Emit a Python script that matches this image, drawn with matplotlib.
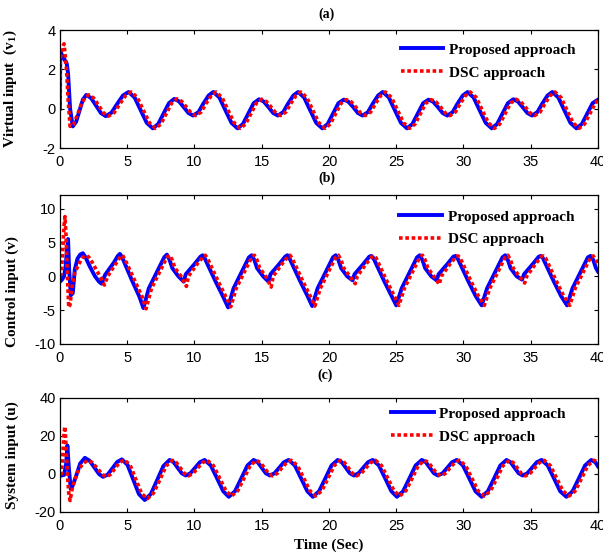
import matplotlib
matplotlib.use('Agg')
import matplotlib.pyplot as plt

plt.rcParams['axes.unicode_minus'] = False
plt.rcParams['mathtext.fontset'] = 'custom'
plt.rcParams['mathtext.rm'] = 'Liberation Serif'
plt.rcParams['mathtext.bf'] = 'Liberation Serif:bold'

SERIF = 'Liberation Serif'
SANS = 'Liberation Sans'

# ---------------- (a) virtual input v1 ----------------
ta_prop = [0, 0.02, 0.25, 0.5, 0.6, 0.75, 0.95, 1.2, 1.45, 1.7, 1.95, 2.31, 2.68, 3.04, 3.4, 3.83, 4.25, 4.68,
           5.1, 5.55, 6.0, 6.45, 6.9, 7.3, 7.7, 8.1, 8.5, 8.85, 9.2, 9.55, 9.9, 10.3, 10.65, 11.05,
           11.4, 11.85, 12.3, 12.75, 13.2, 13.6, 14.0, 14.4, 14.8, 15.15, 15.5, 15.85, 16.2, 16.6, 16.95, 17.35,
           17.7, 18.15, 18.6, 19.05, 19.5, 19.9, 20.3, 20.7, 21.1, 21.45, 21.8, 22.15, 22.5, 22.9, 23.25, 23.65,
           24.0, 24.45, 24.9, 25.35, 25.8, 26.2, 26.6, 27.0, 27.4, 27.75, 28.1, 28.45, 28.8, 29.2, 29.55, 29.95,
           30.3, 30.75, 31.2, 31.65, 32.1, 32.5, 32.9, 33.3, 33.7, 34.05, 34.4, 34.75, 35.1, 35.5, 35.85, 36.25,
           36.6, 37.05, 37.5, 37.95, 38.4, 38.8, 39.2, 39.6, 40.0]
va_prop = [0, 2.9, 2.6, 2.3, 1.8, 0.0, -0.9, -0.66, -0.1, 0.46, 0.7, 0.54, 0.16, -0.22, -0.38, -0.2, 0.24, 0.67,
           0.85, 0.57, -0.08, -0.72, -1.0, -0.78, -0.25, 0.28, 0.5, 0.37, 0.08, -0.22, -0.35, -0.17, 0.25, 0.67,
           0.85, 0.57, -0.08, -0.72, -1.0, -0.78, -0.25, 0.28, 0.48, 0.36, 0.08, -0.22, -0.35, -0.17, 0.25, 0.67,
           0.85, 0.57, -0.08, -0.72, -1.0, -0.78, -0.25, 0.28, 0.46, 0.35, 0.08, -0.22, -0.35, -0.17, 0.25, 0.67,
           0.85, 0.57, -0.08, -0.72, -1.0, -0.78, -0.25, 0.28, 0.46, 0.35, 0.08, -0.22, -0.35, -0.17, 0.25, 0.67,
           0.85, 0.57, -0.08, -0.72, -1.0, -0.78, -0.25, 0.28, 0.48, 0.36, 0.08, -0.22, -0.35, -0.17, 0.25, 0.67,
           0.85, 0.57, -0.08, -0.72, -1.0, -0.78, -0.25, 0.28, 0.46]

ta_dsc = [0, 0.02, 0.15, 0.3, 0.42, 0.5, 0.6, 0.75, 1.0, 1.3, 1.6, 1.9, 2.15, 2.51, 2.88, 3.24, 3.6, 4.03, 4.45, 4.88,
          5.3, 5.75, 6.2, 6.65, 7.1, 7.5, 7.9, 8.3, 8.7, 9.05, 9.4, 9.75, 10.1, 10.5, 10.85, 11.25,
          11.6, 12.05, 12.5, 12.95, 13.4, 13.8, 14.2, 14.6, 15.0, 15.35, 15.7, 16.05, 16.4, 16.8, 17.15, 17.55,
          17.9, 18.35, 18.8, 19.25, 19.7, 20.1, 20.5, 20.9, 21.3, 21.65, 22.0, 22.35, 22.7, 23.1, 23.45, 23.85,
          24.2, 24.65, 25.1, 25.55, 26.0, 26.4, 26.8, 27.2, 27.6, 27.95, 28.3, 28.65, 29.0, 29.4, 29.75, 30.15,
          30.5, 30.95, 31.4, 31.85, 32.3, 32.7, 33.1, 33.5, 33.9, 34.25, 34.6, 34.95, 35.3, 35.7, 36.05, 36.45,
          36.8, 37.25, 37.7, 38.15, 38.6, 39.0, 39.4, 39.8, 40.0]
va_dsc = [0, 2.5, 3.1, 3.3, 2.5, 1.8, 0.5, -0.9, -0.8, -0.3, 0.25, 0.6, 0.7, 0.54, 0.16, -0.22, -0.38, -0.2, 0.24, 0.67,
          0.85, 0.57, -0.08, -0.72, -1.0, -0.78, -0.25, 0.28, 0.5, 0.37, 0.08, -0.22, -0.35, -0.17, 0.25, 0.67,
          0.85, 0.57, -0.08, -0.72, -1.0, -0.78, -0.25, 0.28, 0.48, 0.36, 0.08, -0.22, -0.35, -0.17, 0.25, 0.67,
          0.85, 0.57, -0.08, -0.72, -1.0, -0.78, -0.25, 0.28, 0.46, 0.35, 0.08, -0.22, -0.35, -0.17, 0.25, 0.67,
          0.85, 0.57, -0.08, -0.72, -1.0, -0.78, -0.25, 0.28, 0.46, 0.35, 0.08, -0.22, -0.35, -0.17, 0.25, 0.67,
          0.85, 0.57, -0.08, -0.72, -1.0, -0.78, -0.25, 0.28, 0.48, 0.36, 0.08, -0.22, -0.35, -0.17, 0.25, 0.67,
          0.85, 0.57, -0.08, -0.72, -1.0, -0.78, -0.25, 0.28, 0.42]

# ---------------- (b) control input v ----------------
tb_prop = [0, 0.15, 0.3, 0.42, 0.5, 0.6, 0.68, 0.8, 0.95, 1.1, 1.3, 1.5, 1.7, 1.9, 2.2, 2.6, 2.9, 3.1, 3.35, 3.6, 4.0, 4.3, 4.45, 4.6, 5.35, 5.9,
           6.2, 6.6, 7.25, 7.75, 7.95, 8.15, 8.35, 8.8, 9.2, 9.35, 10.0, 10.45, 10.6, 10.75, 11.55, 12.1,
           12.5, 12.9, 13.55, 14.05, 14.25, 14.45, 14.65, 15.1, 15.5, 15.65, 16.3, 16.75, 16.9, 17.05, 17.85, 18.4,
           18.75, 19.15, 19.8, 20.3, 20.5, 20.7, 20.9, 21.35, 21.75, 21.9, 22.55, 23.0, 23.15, 23.3, 24.1, 24.65,
           25.0, 25.4, 26.05, 26.55, 26.75, 26.95, 27.15, 27.6, 28.0, 28.15, 28.8, 29.25, 29.4, 29.55, 30.35, 30.9,
           31.35, 31.75, 32.4, 32.9, 33.1, 33.3, 33.5, 33.95, 34.35, 34.5, 35.15, 35.6, 35.75, 35.9, 36.7, 37.25,
           37.7, 38.1, 38.75, 39.25, 39.45, 39.65, 39.85, 40.0]
vb_prop = [-0.8, -0.5, 0.0, 1.5, 3.5, 5.5, 1.0, -2.8, -2.5, 1.0, 2.6, 3.2, 3.4, 2.8, 1.5, 0.0, -0.8, -1.1, 0.2, 0.9, 2.0, 3.0, 3.3, 2.9, -0.6, -3.0,
           -4.7, -1.8, 0.8, 2.8, 3.2, 2.4, 1.2, 0.0, -0.8, 0.3, 1.8, 2.9, 3.1, 2.7, -0.7, -2.9,
           -4.6, -1.8, 0.8, 2.8, 3.1, 2.4, 1.2, 0.0, -0.8, 0.3, 1.8, 2.9, 3.1, 2.7, -0.7, -2.9,
           -4.4, -1.8, 0.8, 2.8, 3.1, 2.4, 1.2, 0.0, -0.6, 0.3, 1.8, 2.9, 3.0, 2.7, -0.7, -2.9,
           -4.3, -1.8, 0.8, 2.8, 3.1, 2.4, 1.2, 0.0, -0.6, 0.3, 1.8, 2.9, 3.0, 2.7, -0.7, -2.9,
           -4.3, -1.8, 0.8, 2.8, 3.1, 2.4, 1.2, 0.0, -0.5, 0.3, 1.8, 2.9, 3.0, 2.7, -0.7, -2.9,
           -4.3, -1.8, 0.8, 2.8, 3.0, 2.4, 1.2, 0.7]

tb_dsc = [0, 0.1, 0.2, 0.3, 0.37, 0.45, 0.55, 0.65, 0.75, 0.9, 1.1, 1.4, 1.7, 1.95, 2.15, 2.35, 2.8, 3.1, 3.3, 3.55, 3.8, 4.2, 4.5, 4.65, 4.8, 5.55, 6.1,
          6.4, 6.8, 7.45, 7.95, 8.15, 8.35, 8.55, 9.0, 9.4, 9.55, 10.2, 10.65, 10.8, 10.95, 11.75, 12.3,
          12.7, 13.1, 13.75, 14.25, 14.45, 14.65, 14.85, 15.3, 15.7, 15.85, 16.5, 16.95, 17.1, 17.25, 18.05, 18.6,
          18.95, 19.35, 20.0, 20.5, 20.7, 20.9, 21.1, 21.55, 21.95, 22.1, 22.75, 23.2, 23.35, 23.5, 24.3, 24.85,
          25.2, 25.6, 26.25, 26.75, 26.95, 27.15, 27.35, 27.8, 28.2, 28.35, 29.0, 29.45, 29.6, 29.75, 30.55, 31.1,
          31.55, 31.95, 32.6, 33.1, 33.3, 33.5, 33.7, 34.15, 34.55, 34.7, 35.35, 35.8, 35.95, 36.1, 36.9, 37.45,
          37.9, 38.3, 38.95, 39.45, 39.65, 39.85, 40.0]
vb_dsc = [0, 0.5, 3.5, 7.5, 8.8, 6.0, 0.0, -4.6, -4.2, -1.5, 0.5, 1.8, 2.8, 3.1, 2.8, 2.2, 0.6, -0.5, -1.3, 0.0, 0.8, 2.0, 2.9, 3.1, 2.6, -0.6, -3.0,
          -4.8, -1.8, 0.8, 2.8, 3.1, 2.4, 1.2, 0.0, -1.5, 0.0, 1.8, 2.9, 3.1, 2.7, -0.7, -2.9,
          -4.5, -1.8, 0.8, 2.8, 3.1, 2.4, 1.2, 0.0, -1.6, 0.0, 1.8, 2.9, 3.1, 2.7, -0.7, -2.9,
          -4.4, -1.8, 0.8, 2.8, 3.1, 2.4, 1.2, 0.0, -1.1, 0.0, 1.8, 2.9, 3.0, 2.7, -0.7, -2.9,
          -4.3, -1.8, 0.8, 2.8, 3.1, 2.4, 1.2, 0.0, -1.2, 0.0, 1.8, 2.9, 3.0, 2.7, -0.7, -2.9,
          -4.3, -1.8, 0.8, 2.8, 3.1, 2.4, 1.2, 0.0, -1.0, 0.0, 1.8, 2.9, 3.0, 2.7, -0.7, -2.9,
          -4.3, -1.8, 0.8, 2.8, 3.0, 2.4, 1.6]

# ---------------- (c) system input u ----------------
tc_prop = [0, 0.3, 0.45, 0.55, 0.65, 0.8, 0.95, 1.2, 1.5, 1.85, 2.2, 2.55, 2.9, 3.2, 3.55, 3.9, 4.25, 4.6, 5.02, 5.45, 5.87,
           6.3, 6.76, 7.23, 7.69, 8.15, 8.45, 8.75, 9.05, 9.35, 9.7, 10.05, 10.4, 10.75, 11.21, 11.68, 12.14,
           12.55, 13.01, 13.48, 13.94, 14.4, 14.7, 15.0, 15.3, 15.6, 15.95, 16.3, 16.65, 17.0, 17.46, 17.93, 18.39,
           18.8, 19.26, 19.73, 20.19, 20.65, 20.95, 21.25, 21.55, 21.85, 22.2, 22.55, 22.9, 23.25, 23.71, 24.18, 24.64,
           25.05, 25.51, 25.98, 26.44, 26.9, 27.2, 27.5, 27.8, 28.1, 28.45, 28.8, 29.15, 29.5, 29.96, 30.43, 30.89,
           31.35, 31.81, 32.28, 32.74, 33.2, 33.5, 33.8, 34.1, 34.4, 34.75, 35.1, 35.45, 35.8, 36.26, 36.73, 37.19,
           37.65, 38.11, 38.58, 39.04, 39.5, 39.8, 40.0]
vc_prop = [-1, -0.5, 5, 15, 4, -8, -6, -1, 5.5, 8.5, 7.0, 3.5, 0.0, -1.5, -0.3, 3.0, 6.3, 7.7, 4.8, -3.0, -10.6,
           -13.7, -10.5, -3.1, 4.2, 7.4, 6.2, 3.3, 0.4, -0.8, 0.4, 3.3, 6.2, 7.4, 4.5, -2.3, -9.1,
           -12, -9.1, -2.3, 4.5, 7.4, 6.2, 3.3, 0.4, -0.8, 0.4, 3.3, 6.2, 7.4, 4.5, -2.3, -9.1,
           -12, -9.1, -2.3, 4.5, 7.4, 6.2, 3.3, 0.4, -0.8, 0.4, 3.3, 6.2, 7.4, 4.5, -2.3, -9.1,
           -12, -9.1, -2.3, 4.5, 7.4, 6.2, 3.3, 0.4, -0.8, 0.4, 3.3, 6.2, 7.4, 4.5, -2.3, -9.1,
           -12, -9.1, -2.3, 4.5, 7.4, 6.2, 3.3, 0.4, -0.8, 0.4, 3.3, 6.2, 7.4, 4.5, -2.3, -9.1,
           -12, -9.1, -2.3, 4.5, 7.4, 6.2, 4.0]

tc_dsc = [0, 0.1, 0.2, 0.3, 0.37, 0.45, 0.55, 0.65, 0.75, 0.9, 1.1, 1.4, 1.75, 2.1, 2.4, 2.75, 3.1, 3.4, 3.75, 4.1, 4.45, 4.8, 5.22, 5.65, 6.07,
          6.5, 6.96, 7.43, 7.89, 8.35, 8.65, 8.95, 9.25, 9.55, 9.9, 10.25, 10.6, 10.95, 11.41, 11.88, 12.34,
          12.75, 13.21, 13.68, 14.14, 14.6, 14.9, 15.2, 15.5, 15.8, 16.15, 16.5, 16.85, 17.2, 17.66, 18.13, 18.59,
          19.0, 19.46, 19.93, 20.39, 20.85, 21.15, 21.45, 21.75, 22.05, 22.4, 22.75, 23.1, 23.45, 23.91, 24.38, 24.84,
          25.25, 25.71, 26.18, 26.64, 27.1, 27.4, 27.7, 28.0, 28.3, 28.65, 29.0, 29.35, 29.7, 30.16, 30.63, 31.09,
          31.55, 32.01, 32.48, 32.94, 33.4, 33.7, 34.0, 34.3, 34.6, 34.95, 35.3, 35.65, 36.0, 36.46, 36.93, 37.39,
          37.85, 38.31, 38.78, 39.24, 39.7, 40.0]
vc_dsc = [0, 0, 8, 22, 25, 15, 0, -10, -14, -8, -3, 2.5, 5.8, 7.2, 6.0, 3.2, 0.2, -1.5, -0.3, 3.0, 6.2, 7.4, 4.6, -3.0, -10.3,
          -13.0, -10.0, -3.0, 4.2, 7.2, 6.0, 3.2, 0.3, -1.0, 0.3, 3.2, 6.0, 7.2, 4.4, -2.3, -8.9,
          -11.6, -8.9, -2.3, 4.4, 7.2, 6.0, 3.2, 0.3, -1.0, 0.3, 3.2, 6.0, 7.2, 4.4, -2.3, -8.9,
          -11.6, -8.9, -2.3, 4.4, 7.2, 6.0, 3.2, 0.3, -1.0, 0.3, 3.2, 6.0, 7.2, 4.4, -2.3, -8.9,
          -11.6, -8.9, -2.3, 4.4, 7.2, 6.0, 3.2, 0.3, -1.0, 0.3, 3.2, 6.0, 7.2, 4.4, -2.3, -8.9,
          -11.6, -8.9, -2.3, 4.4, 7.2, 6.0, 3.2, 0.3, -1.0, 0.3, 3.2, 6.0, 7.2, 4.4, -2.3, -8.9,
          -11.6, -8.9, -2.3, 4.4, 7.2, 6.4]

xticks = [0, 5, 10, 15, 20, 25, 30, 35, 40]
yticks_a = [-2, 0, 2, 4]
yticks_b = [-10, -5, 0, 5, 10]
yticks_c = [-20, 0, 20, 40]
leg_labels = ['Proposed approach', 'DSC approach']

####################################################################################################
## plot
####################################################################################################
fig = plt.figure(figsize=(6.03, 5.55), dpi=100)

ax_a = fig.add_axes([0.0995, 0.7333, 0.8922, 0.2126])
ax_b = fig.add_axes([0.0995, 0.3802, 0.8922, 0.2685])
ax_c = fig.add_axes([0.0995, 0.0775, 0.8922, 0.2054])

panels = [
    (ax_a, ta_prop, va_prop, ta_dsc, va_dsc, (-2, 4), yticks_a, r'Virtual input  (v$_{\mathbf{1}}$)', 0.5, (0.633, 0.89)),
    (ax_b, tb_prop, vb_prop, tb_dsc, vb_dsc, (-10, 12), yticks_b, 'Control input (v)', 0.35, (0.631, 0.90)),
    (ax_c, tc_prop, vc_prop, tc_dsc, vc_dsc, (-20, 40), yticks_c, 'System input (u)', 0.5, (0.615, 0.92)),
]

for ax, tp, vp, td, vd, ylim, yt, ylab, ylab_y, leg_pos in panels:
    ax.plot(tp, vp, color='#0000ff', lw=2.8, label=leg_labels[0], solid_joinstyle='round')
    ax.plot(td, vd, color='#ff0000', lw=2.6, ls=(0, (1, 0.75)), label=leg_labels[1])
    ax.set_xlim(0, 40)
    ax.set_ylim(*ylim)
    ax.set_xticks(xticks)
    ax.set_yticks(yt)
    ax.tick_params(direction='in', top=True, right=True, length=3, width=0.8, labelsize=10.5)
    ax.tick_params(axis='x', pad=5)
    ax.tick_params(axis='y', pad=3)
    for lab in ax.get_xticklabels() + ax.get_yticklabels():
        lab.set_fontfamily(SANS)
    for sp in ax.spines.values():
        sp.set_linewidth(0.9)
    ax.set_ylabel(ylab, fontfamily=SERIF, fontweight='bold', fontsize=11)
    ax.yaxis.set_label_coords(-0.076, ylab_y)
    ax.legend(loc='upper left', bbox_to_anchor=leg_pos, frameon=False, borderpad=0, borderaxespad=0,
              handlelength=2.8, handletextpad=0.35, labelspacing=0.6,
              prop={'family': SERIF, 'weight': 'bold', 'size': 11})

fig.text(0.542, 0.975, '(a)', ha='center', va='center', fontfamily=SERIF, fontweight='bold', fontsize=10)
fig.text(0.542, 0.679, '(b)', ha='center', va='center', fontfamily=SERIF, fontweight='bold', fontsize=10)
fig.text(0.539, 0.324, '(c)', ha='center', va='center', fontfamily=SERIF, fontweight='bold', fontsize=10)
fig.text(0.545, 0.018, 'Time (Sec)', ha='center', va='center', fontfamily=SERIF, fontweight='bold', fontsize=11)

plt.savefig('out.png', dpi=100)
